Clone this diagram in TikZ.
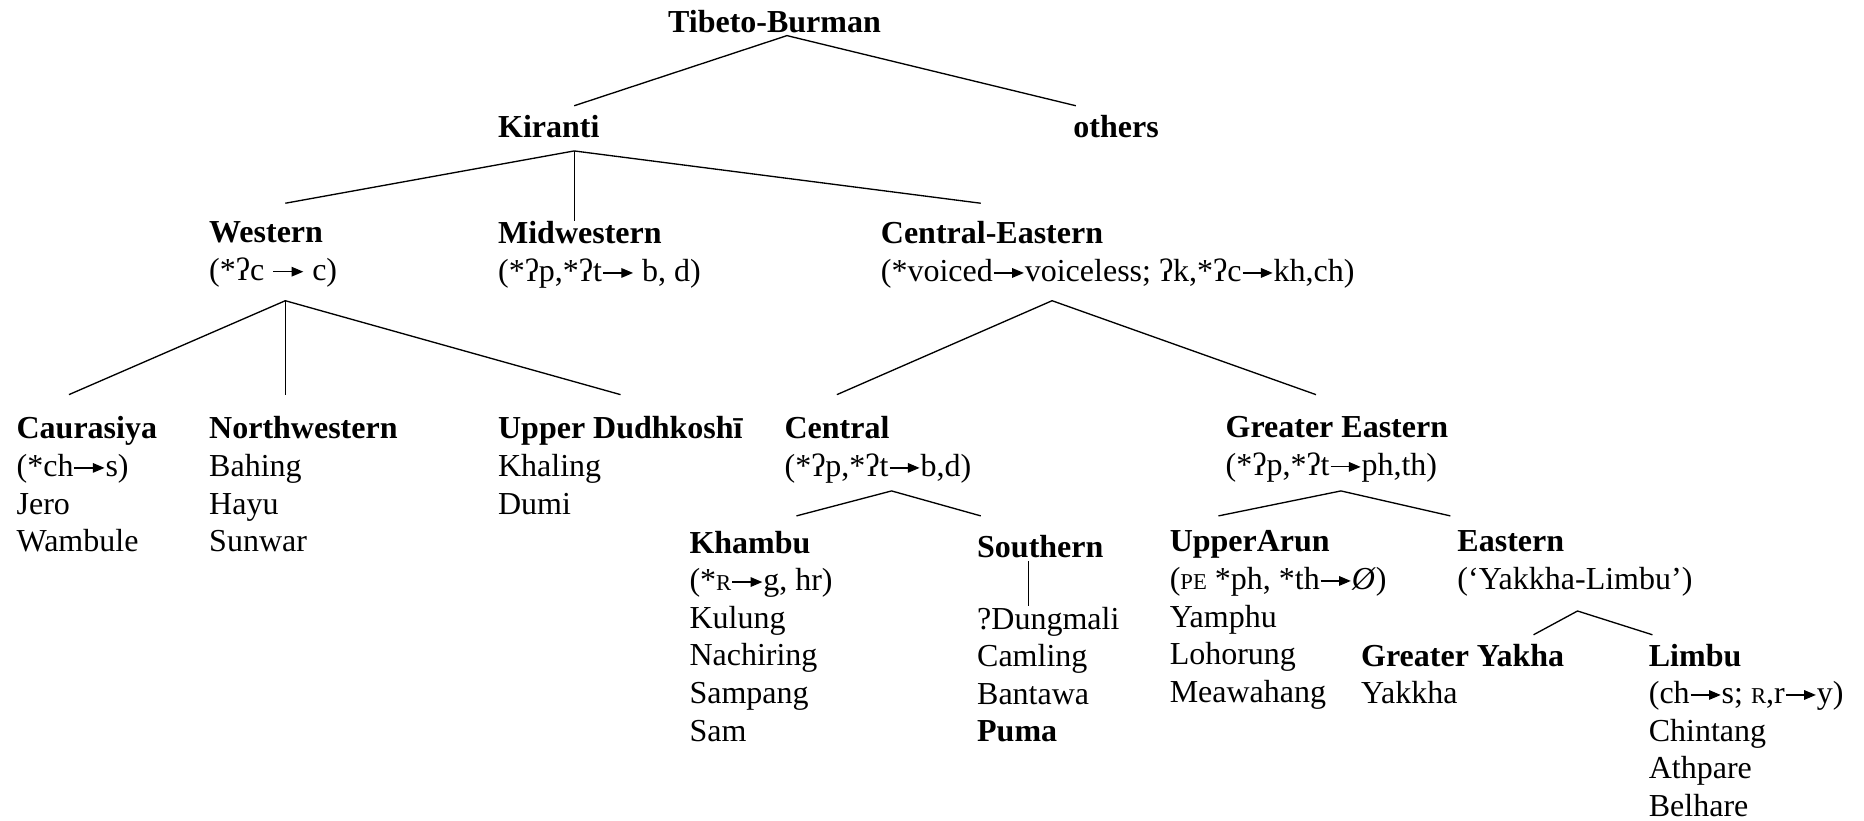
\documentclass[tikz,border=0pt]{standalone}
\usepackage{fontspec}
\setmainfont{Liberation Serif}
\usetikzlibrary{calc,arrows.meta}
\newcommand\smallcap[1]{{\fontsize{8.5}{10}\selectfont #1}}
% sound-change arrow: thin shaft with a filled triangular head
\newcommand\arr{\tikz[baseline=0pt]{\path (0pt,0pt) (1em,0pt);
  \draw[line width=0.45pt,-{Triangle[length=4.4pt,width=3.6pt]}] (0.03em,0.27em) -- (0.97em,0.27em);}}
\begin{document}
\begin{tikzpicture}[x=0.4458pt, y=-0.4458pt,
  tx/.style={anchor=north west, inner sep=0pt, outer sep=0pt, align=left,
    font=\fontsize{12}{14.1}\selectfont, yshift=10pt,
    execute at begin node={\rule{0pt}{10pt}}},
  branch/.style={line width=0.5pt, draw=black}]
\useasboundingbox (0,0) rectangle (1568,690);

% level 0 and 1
\node[tx] (tb) at (562,27) {\textbf{Tibeto-Burman}};
\node[tx] (kiranti) at (419,116) {\textbf{Kiranti}};
\node[tx] (others) at (903,116) {\textbf{others}};

% Kiranti subgroups
\node[tx] (western) at (176,209) {\textbf{Western}\\(*ʔc \arr{} c)};
\node[tx] (midwestern) at (419,209) {\textbf{Midwestern}\\(*ʔp,*ʔt\arr{} b, d)};
\node[tx] (centeast) at (741,209) {\textbf{Central-Eastern}\\(*voiced\arr{}voiceless; ʔk,*ʔc\arr{}kh,ch)};

% third level
\node[tx] (caurasiya) at (14,373) {\textbf{Caurasiya}\\(*ch\arr{}s)\\Jero\\Wambule};
\node[tx] (northwestern) at (176,373) {\textbf{Northwestern}\\Bahing\\Hayu\\Sunwar};
\node[tx] (upperdudh) at (419,373) {\textbf{Upper Dudhkoshī}\\Khaling\\Dumi};
\node[tx] (central) at (660,373) {\textbf{Central}\\(*ʔp,*ʔt\arr{}b,d)};
\node[tx] (greatereastern) at (1031,373) {\textbf{Greater Eastern}\\(*ʔp,*ʔt\arr{}ph,th)};

% fourth level
\node[tx] (khambu) at (580,469) {\textbf{Khambu}\\(*\smallcap{R}\arr{}g, hr)\\Kulung\\Nachiring\\Sampang\\Sam};
\node[tx] (southern) at (822,469) {\textbf{Southern}};
\node[tx] (southlist) at (822,533) {?Dungmali\\Camling\\Bantawa\\\textbf{Puma}};
\node[tx] (upperarun) at (984,469) {\textbf{UpperArun}\\(\smallcap{PE} *ph, *th\arr{}\textit{Ø})\\Yamphu\\Lohorung\\Meawahang};
\node[tx] (eastern) at (1226,469) {\textbf{Eastern}\\(‘Yakkha-Limbu’)};

% fifth level
\node[tx] (greateryakha) at (1145,564) {\textbf{Greater Yakha}\\Yakkha};
\node[tx] (limbu) at (1387,564) {\textbf{Limbu}\\(ch\arr{}s; \smallcap{R},r\arr{}y)\\Chintang\\Athpare\\Belhare};

% branches
\draw[branch] ($(kiranti.north west)+(64,-4.6)$) -- ($(tb.north west)+(100,25.4)$) -- ($(others.north west)+(2,-4.6)$);

\draw[branch] ($(western.north west)+(64,-15.6)$) -- ($(kiranti.north west)+(64,33.4)$) -- ($(centeast.north west)+(84,-15.6)$);
\draw[branch] ($(kiranti.north west)+(64,33.4)$) -- ($(midwestern.north west)+(64,-0.6)$);

\draw[branch] ($(caurasiya.north west)+(44,-18.6)$) -- ($(western.north west)+(64,66.4)$) -- ($(upperdudh.north west)+(103,-18.6)$);
\draw[branch] ($(western.north west)+(64,66.4)$) -- ($(northwestern.north west)+(64,-18.6)$);

\draw[branch] ($(central.north west)+(44,-18.6)$) -- ($(centeast.north west)+(144,66.4)$) -- ($(greatereastern.north west)+(76,-18.6)$);

\draw[branch] ($(khambu.north west)+(90,-12.6)$) -- ($(central.north west)+(90,62.4)$) -- ($(southern.north west)+(3,-12.6)$);
\draw[branch] ($(southern.north west)+(43,25.4)$) -- ($(southlist.north west)+(43,-0.6)$);

\draw[branch] ($(upperarun.north west)+(41,-12.6)$) -- ($(greatereastern.north west)+(97,62.4)$) -- ($(eastern.north west)+(-6,-12.6)$);

\draw[branch] ($(greateryakha.north west)+(145,-7.6)$) -- ($(eastern.north west)+(101,67.4)$) -- ($(limbu.north west)+(3,-7.6)$);
\end{tikzpicture}
\end{document}
